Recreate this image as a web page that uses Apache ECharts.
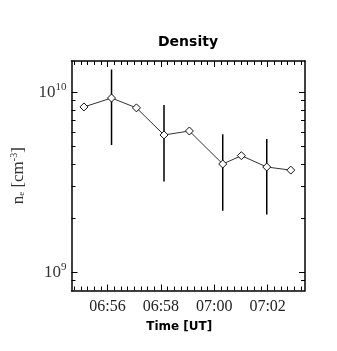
<!DOCTYPE html>
<html>
<head>
<meta charset="utf-8">
<script src="https://cdn.jsdelivr.net/npm/echarts@6/dist/echarts.min.js"></script>
<style>
  html, body { margin: 0; padding: 0; background: #ffffff; }
  #chart { width: 337px; height: 351px; }
</style>
</head>
<body>
<div id="chart"></div>
<script>
// Electron density samples (UT time, cm^-3)
const sampleTimes = ["06:55:07", "06:56:09", "06:57:05", "06:58:07", "06:59:04", "07:00:19", "07:01:01", "07:01:58", "07:02:52"];
const density = [8.3e9, 9.3e9, 8.2e9, 5.8e9, 6.1e9, 4.0e9, 4.45e9, 3.85e9, 3.7e9];

// Uncertainty ranges for selected samples
const errTimes = ["06:56:09", "06:58:07", "07:00:19", "07:01:58"];
const errLow = [5.1e9, 3.2e9, 2.2e9, 2.1e9];
const errHigh = [1.34e10, 8.5e9, 5.85e9, 5.5e9];

// Axis ranges and ticks
const timeRange = ["06:54:39", "07:03:24"];
const timeLabels = ["06:56", "06:58", "07:00", "07:02"];
const densityRange = [7.94e8, 1.493e10];
const densityMajor = [1e9, 1e10];
const densityMinor = [9e8, 2e9, 3e9, 4e9, 5e9, 6e9, 7e9, 8e9, 9e9];

function toSec(s) {
  const p = s.split(":").map(Number);
  return p[0] * 3600 + p[1] * 60 + (p[2] || 0);
}
function toHM(sec) {
  const h = Math.floor(sec / 3600);
  const m = Math.round((sec - h * 3600) / 60);
  return String(h).padStart(2, "0") + ":" + String(m).padStart(2, "0");
}

const xMin = toSec(timeRange[0]);
const xMax = toSec(timeRange[1]);
const xMajor = timeLabels.map(toSec);
// minor time ticks every 15 s
const xMinor = [];
for (let t = Math.ceil(xMin / 15) * 15; t <= xMax; t += 15) xMinor.push(t);

const serif = "'Liberation Serif', 'DejaVu Serif', serif";
const sans = "'DejaVu Sans', 'Liberation Sans', sans-serif";
const frame = { show: true, onZero: false, lineStyle: { color: "#000", width: 1.5 } };

function xAxisDef(pos, ticks, len, withLine, withLabel) {
  return {
    type: "value", position: pos, min: xMin, max: xMax,
    axisLine: withLine ? frame : { show: false },
    axisTick: { show: true, inside: true, length: len, customValues: ticks, lineStyle: { color: "#000", width: 1 } },
    axisLabel: withLabel ? {
      show: true, customValues: ticks, formatter: v => toHM(v),
      fontFamily: serif, fontSize: 16, color: "#222", margin: 8
    } : { show: false },
    splitLine: { show: false }
  };
}
function yAxisDef(pos, ticks, len, withLine, withLabel) {
  return {
    type: "log", logBase: 10, position: pos, min: densityRange[0], max: densityRange[1],
    axisLine: withLine ? frame : { show: false },
    axisTick: { show: true, inside: true, length: len, customValues: ticks, lineStyle: { color: "#000", width: 1 } },
    axisLabel: withLabel ? {
      show: true, customValues: ticks,
      formatter: v => "{b|10}{s|" + Math.round(Math.log10(v)) + "}",
      margin: 5,
      rich: {
        b: { fontFamily: serif, fontSize: 17, color: "#333" },
        s: { fontFamily: serif, fontSize: 11, color: "#333", padding: [0, 0, 10, 0] }
      }
    } : { show: false },
    splitLine: { show: false }
  };
}

const xAxes = [
  xAxisDef("bottom", xMajor, 6, true, true),
  xAxisDef("bottom", xMinor, 4, false, false),
  xAxisDef("top", xMajor, 6, true, false),
  xAxisDef("top", xMinor, 4, false, false)
];
xAxes[0].name = "Time [UT]";
xAxes[0].nameLocation = "middle";
xAxes[0].nameGap = 30;
xAxes[0].nameTextStyle = { fontFamily: sans, fontWeight: "bold", fontSize: 12, color: "#000", padding: [0, 18, 0, 0] };

const yAxes = [
  yAxisDef("left", densityMajor, 6, true, true),
  yAxisDef("left", densityMinor, 4, false, false),
  yAxisDef("right", densityMajor, 6, true, false),
  yAxisDef("right", densityMinor, 4, false, false)
];
yAxes[0].name = "{n|n}{e|e}{n| [cm}{p|-3}{n|]}";
yAxes[0].nameLocation = "middle";
yAxes[0].nameGap = 43;
yAxes[0].nameRotate = 90;
yAxes[0].nameTextStyle = {
  rich: {
    n: { fontFamily: serif, fontSize: 17, color: "#333" },
    e: { fontFamily: serif, fontSize: 9, color: "#333", padding: [6, 0, 0, 0] },
    p: { fontFamily: serif, fontSize: 10, color: "#333", padding: [0, 0, 9, 0] }
  }
};

const points = sampleTimes.map((t, i) => [toSec(t), density[i]]);
const bars = errTimes.map((t, i) => [toSec(t), errLow[i], errHigh[i]]);

const chart = echarts.init(document.getElementById("chart"), null, { renderer: "canvas" });
chart.setOption({
  animation: false,
  backgroundColor: "#ffffff",
  title: {
    text: "Density", left: 153, top: 30,
    textStyle: { fontFamily: sans, fontWeight: "bold", fontSize: 14, color: "#000" }
  },
  grid: { left: 71.5, right: 32, top: 61, bottom: 60.5, containLabel: false },
  xAxis: xAxes,
  yAxis: yAxes,
  series: [
    {
      type: "custom",
      xAxisIndex: 0, yAxisIndex: 0,
      data: bars,
      encode: { x: 0, y: [1, 2] },
      renderItem: (params, api) => {
        const a = api.coord([api.value(0), api.value(1)]);
        const b = api.coord([api.value(0), api.value(2)]);
        return {
          type: "line",
          shape: { x1: a[0], y1: a[1], x2: b[0], y2: b[1] },
          style: { stroke: "#000", lineWidth: 1.5 }
        };
      },
      z: 1
    },
    {
      type: "line",
      xAxisIndex: 0, yAxisIndex: 0,
      data: points,
      symbol: "diamond",
      symbolSize: 8,
      showSymbol: true,
      lineStyle: { color: "#333", width: 1 },
      itemStyle: { color: "#fff", borderColor: "#111", borderWidth: 1 },
      z: 3
    }
  ]
});
</script>
</body>
</html>
